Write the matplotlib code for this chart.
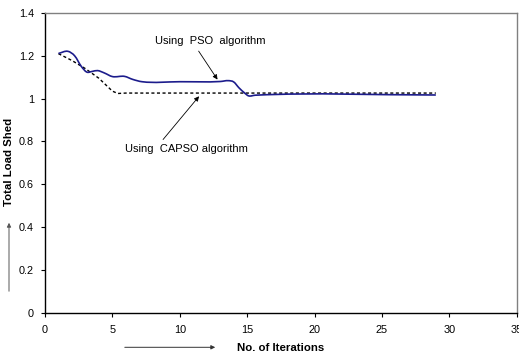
import matplotlib
matplotlib.use("Agg")
import matplotlib.pyplot as plt
from matplotlib.path import Path
from matplotlib.patches import PathPatch, FancyArrowPatch
import numpy as np

plt.rcParams['font.family'] = ['Liberation Sans', 'DejaVu Sans']

# Data
pso_iter = [1.0, 1.7, 2.2, 2.7, 3.1, 3.5, 3.9, 4.4, 5.0, 5.9, 6.5, 7.2, 10.0, 13.0, 13.6, 14.0, 14.4, 14.8, 15.1, 15.6, 29.0]
pso_shed = [1.211, 1.221, 1.20, 1.15, 1.124, 1.127, 1.131, 1.12, 1.103, 1.104, 1.09, 1.079, 1.079, 1.080, 1.084, 1.078, 1.05, 1.027, 1.013, 1.016, 1.017]

capso_iter = [1, 2, 3, 4, 5, 5.4, 6, 29]
capso_shed = [1.21, 1.178, 1.14, 1.095, 1.035, 1.024, 1.026, 1.026]

xticks = [0, 5, 10, 15, 20, 25, 30, 35]
yticks = [0, 0.2, 0.4, 0.6, 0.8, 1.0, 1.2, 1.4]
ytick_labels = ["0", "0.2", "0.4", "0.6", "0.8", "1", "1.2", "1.4"]

W, H = 519, 356
fig = plt.figure(figsize=(W / 100, H / 100), dpi=100)
ax = fig.add_axes([45 / W, 1 - 312.7 / H, (516.7 - 45) / W, (312.7 - 13) / H])


def smooth_path(xs, ys):
    """Hermite (x-monotone) smoothing of the read points, drawn as Bezier segments."""
    xs = np.asarray(xs, float)
    ys = np.asarray(ys, float)
    n = len(xs)
    sec = np.diff(ys) / np.diff(xs)
    m = np.empty(n)
    m[0] = sec[0]
    m[-1] = sec[-1]
    m[1:-1] = (sec[:-1] + sec[1:]) / 2
    verts = [(xs[0], ys[0])]
    codes = [Path.MOVETO]
    for i in range(n - 1):
        dx = xs[i + 1] - xs[i]
        c1 = (xs[i] + dx / 3, ys[i] + m[i] * dx / 3)
        c2 = (xs[i + 1] - dx / 3, ys[i + 1] - m[i + 1] * dx / 3)
        verts += [c1, c2, (xs[i + 1], ys[i + 1])]
        codes += [Path.CURVE4] * 3
    return Path(verts, codes)


ax.add_patch(PathPatch(smooth_path(pso_iter, pso_shed), fill=False,
                       edgecolor='#1c1c8c', lw=1.2, zorder=3))
ax.plot(capso_iter, capso_shed, color='black', lw=1.0, linestyle=(0, (2.2, 1.8)), zorder=2)

ax.set_xlim(0, 35)
ax.set_ylim(0, 1.4)
ax.set_xticks(xticks)
ax.set_yticks(yticks)
ax.set_yticklabels(ytick_labels)
ax.tick_params(direction='out', length=3, width=0.8, labelsize=7.8, pad=5, colors='black')
ax.tick_params(axis='x', pad=6)
for s in ['top', 'right']:
    ax.spines[s].set_color('#808080')
    ax.spines[s].set_linewidth(1.0)
for s in ['left', 'bottom']:
    ax.spines[s].set_color('black')
    ax.spines[s].set_linewidth(1.0)

# Annotations
arrow_kw = dict(arrowstyle='-|>', lw=0.6, color='black', mutation_scale=7, shrinkA=0, shrinkB=0)
ax.text(8.15, 1.269, 'Using  PSO  algorithm', fontsize=8, va='center', ha='left')
ax.annotate('', xy=(12.8, 1.089), xytext=(11.4, 1.222), arrowprops=arrow_kw)
ax.text(5.9, 0.765, 'Using  CAPSO algorithm', fontsize=8, va='center', ha='left')
ax.annotate('', xy=(11.43, 1.011), xytext=(8.76, 0.809), arrowprops=arrow_kw)

# Axis labels with arrows (figure coordinates)
fig.text(9 / W, 1 - 162 / H, 'Total Load Shed', rotation=90, fontsize=8.2,
         fontweight='bold', ha='center', va='center')
fig.text(280.5 / W, 1 - 348 / H, 'No. of Iterations', fontsize=8.2,
         fontweight='bold', ha='center', va='center')
fig.add_artist(FancyArrowPatch(
    (9 / W, 1 - 294 / H), (9 / W, 1 - 220 / H), transform=fig.transFigure,
    arrowstyle='-|>', mutation_scale=6, lw=0.7, color='#555555'))
fig.add_artist(FancyArrowPatch(
    (122 / W, 1 - 347.3 / H), (218 / W, 1 - 347.3 / H), transform=fig.transFigure,
    arrowstyle='-|>', mutation_scale=6, lw=0.7, color='#333333'))

fig.savefig('out.png', dpi=100)
